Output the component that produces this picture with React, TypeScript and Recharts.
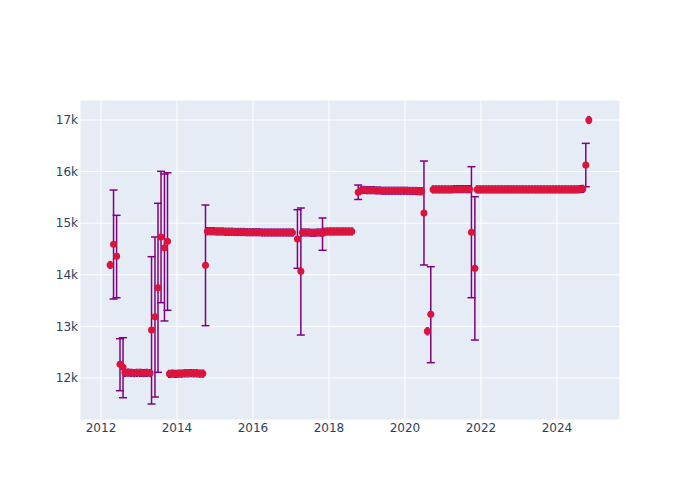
import React from 'react';
import { ScatterChart, Scatter, XAxis, YAxis, CartesianGrid, ErrorBar } from 'recharts';

// tight clusters (small error on every point)
const clusterErr = 70;

const cluster2012Years = [2012.63, 2012.71, 2012.79, 2012.87, 2012.95, 2013.04, 2013.12, 2013.2, 2013.29];
const cluster2012Values = [12100, 12105, 12100, 12095, 12100, 12100, 12095, 12100, 12095];

const cluster2014Years = [2013.8, 2013.88, 2013.96, 2014.04, 2014.12, 2014.2, 2014.28, 2014.36, 2014.44, 2014.52, 2014.6, 2014.68];
const cluster2014Values = [12080, 12085, 12080, 12085, 12085, 12090, 12090, 12095, 12090, 12090, 12085, 12085];

const cluster2015Years = [
  2014.8, 2014.88, 2014.96, 2015.04, 2015.12, 2015.2, 2015.28, 2015.36, 2015.44, 2015.52,
  2015.6, 2015.68, 2015.76, 2015.84, 2015.92, 2016.0, 2016.08, 2016.16, 2016.24, 2016.32,
  2016.4, 2016.48, 2016.56, 2016.64, 2016.72, 2016.8, 2016.88, 2016.96, 2017.04,
];
const cluster2015Values = [
  14845, 14845, 14845, 14840, 14840, 14840, 14835, 14835, 14835, 14830,
  14830, 14830, 14830, 14825, 14825, 14825, 14825, 14825, 14820, 14820,
  14820, 14820, 14820, 14820, 14820, 14820, 14820, 14820, 14820,
];

const cluster2017Years = [2017.3, 2017.38, 2017.46, 2017.54, 2017.62, 2017.7, 2017.78];
const cluster2017Values = [14820, 14820, 14820, 14815, 14815, 14820, 14820];

const cluster2018Years = [2017.88, 2017.96, 2018.04, 2018.12, 2018.2, 2018.28, 2018.36, 2018.44, 2018.52, 2018.6];
const cluster2018Values = [14835, 14840, 14840, 14840, 14840, 14840, 14840, 14840, 14840, 14840];

const cluster2019Years = [
  2018.85, 2018.93, 2019.01, 2019.09, 2019.17, 2019.25, 2019.33, 2019.41, 2019.49, 2019.57,
  2019.65, 2019.73, 2019.81, 2019.89, 2019.97, 2020.05, 2020.13, 2020.21, 2020.29, 2020.37, 2020.44,
];
const cluster2019Values = [
  15640, 15645, 15640, 15640, 15640, 15635, 15635, 15630, 15630, 15630,
  15630, 15630, 15630, 15630, 15630, 15630, 15625, 15625, 15625, 15620, 15620,
];

const cluster2021Years = [2020.74, 2020.82, 2020.9, 2020.98, 2021.06, 2021.14, 2021.22, 2021.3, 2021.38, 2021.46, 2021.54, 2021.62, 2021.7];
const cluster2021Values = [15655, 15655, 15655, 15655, 15655, 15655, 15655, 15660, 15660, 15660, 15660, 15660, 15660];

const cluster2023Years = [
  2021.9, 2021.98, 2022.06, 2022.14, 2022.22, 2022.3, 2022.38, 2022.46, 2022.54, 2022.62,
  2022.7, 2022.78, 2022.86, 2022.94, 2023.02, 2023.1, 2023.18, 2023.26, 2023.34, 2023.42,
  2023.5, 2023.58, 2023.66, 2023.74, 2023.82, 2023.9, 2023.98, 2024.06, 2024.14, 2024.22,
  2024.3, 2024.38, 2024.46, 2024.54, 2024.62, 2024.68,
];
const cluster2023Values = [
  15655, 15655, 15655, 15655, 15655, 15655, 15655, 15655, 15655, 15655,
  15655, 15655, 15655, 15655, 15655, 15655, 15655, 15655, 15655, 15655,
  15655, 15655, 15655, 15655, 15655, 15655, 15655, 15655, 15655, 15655,
  15655, 15655, 15655, 15655, 15660, 15665,
];

// lone points with tiny error
const loneYears = [2012.24, 2020.59, 2024.84];
const loneValues = [14190, 12905, 17000];

// isolated points with their own (asymmetric) errors
const singleYears = [
  2012.33, 2012.41, 2012.5, 2012.58, 2013.33, 2013.42, 2013.5, 2013.58, 2013.67, 2013.75,
  2014.75, 2017.17, 2017.26, 2017.83, 2018.77, 2020.5, 2020.68, 2021.75, 2021.84, 2024.76,
];
const singleValues = [
  14591, 14359, 12265, 12207, 12930, 13188, 13750, 14733, 14525, 14649,
  14184, 14694, 14068, 14804, 15600, 15198, 13234, 14824, 14126, 16128,
];
const singleErrMinus = [
  1060, 803, 511, 589, 1434, 1556, 1640, 1273, 1420, 1337,
  1170, 568, 1235, 329, 140, 1008, 937, 1268, 1390, 421,
];
const singleErrPlus = [
  1052, 794, 497, 574, 1421, 1545, 1636, 1273, 1428, 1330,
  1169, 568, 1227, 297, 140, 1007, 923, 1271, 1388, 420,
];

const xTicks = [2012, 2014, 2016, 2018, 2020, 2022, 2024];
const yTicks = [12000, 13000, 14000, 15000, 16000, 17000];

const clusters: Array<[number[], number[]]> = [
  [loneYears, loneValues],
  [cluster2012Years, cluster2012Values],
  [cluster2014Years, cluster2014Values],
  [cluster2015Years, cluster2015Values],
  [cluster2017Years, cluster2017Values],
  [cluster2018Years, cluster2018Values],
  [cluster2019Years, cluster2019Values],
  [cluster2021Years, cluster2021Values],
  [cluster2023Years, cluster2023Values],
];

const clusterData = clusters.flatMap(([ys, vs]) =>
  ys.map((year, i) => ({ year, value: vs[i], err: [clusterErr, clusterErr] }))
);
const singleData = singleYears.map((year, i) => ({
  year,
  value: singleValues[i],
  err: [singleErrMinus[i], singleErrPlus[i]],
}));

const tickStyle = { fontSize: 12, fill: '#2a3f5f', fontFamily: 'DejaVu Sans, sans-serif' };

const Dot = (props: any) => <circle cx={props.cx} cy={props.cy} r={3.5} fill="#DC143C" />;

const App: React.FC = () => {
  return (
    <div style={{ position: 'absolute', left: 0, top: 0, width: 700, height: 500, background: '#fff' }}>
      <ScatterChart width={700} height={500} margin={{ top: 100, right: 80, bottom: 50, left: 20 }}>
        <CartesianGrid fill="#E5ECF6" stroke="#ffffff" strokeWidth={1} />
        <XAxis
          type="number"
          dataKey="year"
          domain={[2011.447, 2025.66]}
          ticks={xTicks}
          allowDataOverflow
          axisLine={false}
          tickLine={false}
          tickSize={0}
          tickMargin={3}
          height={30}
          tick={tickStyle}
        />
        <YAxis
          type="number"
          dataKey="value"
          domain={[11186, 17388]}
          ticks={yTicks}
          allowDataOverflow
          axisLine={false}
          tickLine={false}
          tickSize={0}
          tickMargin={2}
          width={60}
          tick={tickStyle}
          tickFormatter={(v: number) => `${v / 1000}k`}
        />
        <Scatter data={clusterData} shape={Dot} isAnimationActive={false}>
          <ErrorBar dataKey="err" direction="y" stroke="#800080" strokeWidth={1} width={1.5} />
        </Scatter>
        <Scatter data={singleData} shape={Dot} isAnimationActive={false}>
          <ErrorBar dataKey="err" direction="y" stroke="#800080" strokeWidth={1.5} width={4} />
        </Scatter>
      </ScatterChart>
    </div>
  );
};

export default App;
